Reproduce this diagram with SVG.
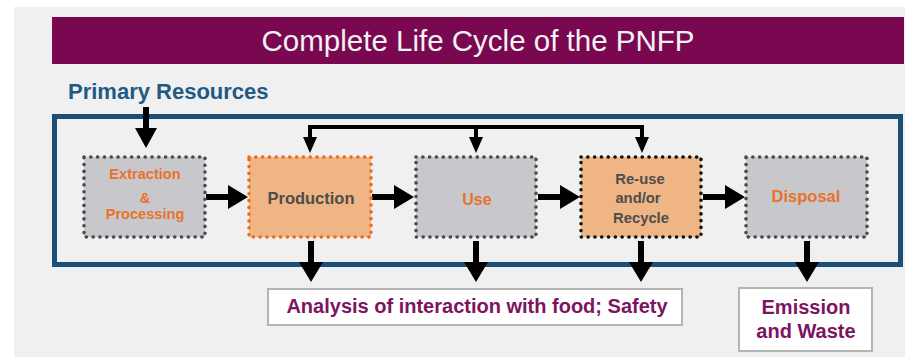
<svg xmlns="http://www.w3.org/2000/svg" width="905" height="357" viewBox="0 0 905 357">
  <defs>
    <style>
      .t { font-family: "Liberation Sans", Arial, sans-serif; font-weight: bold; text-anchor: middle; }
      .box { stroke-width: 3.6; stroke-linecap: round; stroke-dasharray: 0.1 6.7; }
      .grey { fill: #c7c7cc; stroke: #4a4a4a; }
      .orangeBox { fill: #f0b585; }
      .orange { fill: #e8732a; }
      .dark { fill: #4d4d4d; }
      .plum { fill: #7d145f; }
      .out { fill: #ffffff; stroke: #b4b4b4; stroke-width: 2; }
      .line { fill: none; stroke: #000; }
    </style>
  </defs>

  <!-- slide background -->
  <rect x="14" y="7" width="891" height="350" fill="#f0f0f0"/>

  <!-- title bar -->
  <g id="title">
    <rect x="52" y="17" width="852" height="47" fill="#7a0850"/>
    <text x="478" y="51" font-family="Liberation Sans, Arial, sans-serif" font-size="29.5" fill="#f2f2f2" text-anchor="middle">Complete Life Cycle of the PNFP</text>
  </g>

  <g id="primary-resources">
    <text x="68" y="99" font-family="Liberation Sans, Arial, sans-serif" font-weight="bold" font-size="22" fill="#1f5a85">Primary Resources</text>
  </g>

  <!-- life-cycle frame -->
  <g id="frame">
    <rect x="54.5" y="116.5" width="846" height="148" fill="none" stroke="#1a4f78" stroke-width="5"/>
  </g>

  <!-- connectors -->
  <g id="connectors">
    <!-- primary resources into extraction -->
    <rect x="143" y="107" width="6" height="22"/>
    <polygon points="135,128 157,128 146,148"/>

    <!-- feedback line over the stages -->
    <polyline class="line" stroke-width="4" points="310,139 310,127 642,127 642,139"/>
    <line class="line" stroke-width="4" x1="476" y1="127" x2="476" y2="139"/>
    <polygon points="303,137 317,137 310,153"/>
    <polygon points="469,137 483,137 476,153"/>
    <polygon points="635,137 649,137 642,153"/>

    <!-- stage to stage -->
    <rect x="206" y="194" width="24" height="6"/>
    <polygon points="228,185 248,197 228,209"/>
    <rect x="372" y="194" width="24" height="6"/>
    <polygon points="394,185 414,197 394,209"/>
    <rect x="538" y="194" width="24" height="6"/>
    <polygon points="560,185 580,197 560,209"/>
    <rect x="703" y="194" width="24" height="6"/>
    <polygon points="725,185 745,197 725,209"/>

    <!-- stages to outcomes -->
    <rect x="308" y="241" width="6" height="23"/>
    <polygon points="299,262 323,262 311,282"/>
    <rect x="473" y="241" width="6" height="23"/>
    <polygon points="464,262 488,262 476,282"/>
    <rect x="638" y="241" width="6" height="23"/>
    <polygon points="629,262 653,262 641,282"/>
    <rect x="804" y="241" width="6" height="23"/>
    <polygon points="795,262 819,262 807,282"/>
  </g>

  <!-- stages -->
  <g id="extraction">
    <rect class="box grey" x="84" y="157" width="121" height="80"/>
    <text class="t orange" font-size="14.6" x="145" y="179">Extraction</text>
    <text class="t orange" font-size="14.6" x="145" y="203">&amp;</text>
    <text class="t orange" font-size="14.6" x="145" y="219">Processing</text>
  </g>

  <g id="production">
    <rect class="box orangeBox" stroke="#ea6d1c" x="249" y="157" width="122" height="80"/>
    <text class="t dark" font-size="16.5" x="311" y="204">Production</text>
  </g>

  <g id="use">
    <rect class="box grey" x="416" y="157" width="120" height="80"/>
    <text class="t orange" font-size="16" x="477" y="205">Use</text>
  </g>

  <g id="reuse-recycle">
    <rect class="box orangeBox" stroke="#111" x="581" y="157" width="120" height="80"/>
    <text class="t dark" font-size="14.8" x="640" y="184">Re-use</text>
    <text class="t dark" font-size="14.8" x="638" y="203">and/or</text>
    <text class="t dark" font-size="14.8" x="641" y="223">Recycle</text>
  </g>

  <g id="disposal">
    <rect class="box grey" x="746" y="157" width="121" height="80"/>
    <text class="t orange" font-size="16.5" x="806" y="202">Disposal</text>
  </g>

  <!-- outcomes -->
  <g id="analysis-safety">
    <rect class="out" x="268" y="289" width="414" height="36"/>
    <text class="t plum" font-size="20" x="477" y="313">Analysis of interaction with food; Safety</text>
  </g>

  <g id="emission-waste">
    <rect class="out" x="739" y="288" width="133" height="63"/>
    <text class="t plum" font-size="20" x="806" y="314">Emission</text>
    <text class="t plum" font-size="20" x="806" y="338">and Waste</text>
  </g>
</svg>
